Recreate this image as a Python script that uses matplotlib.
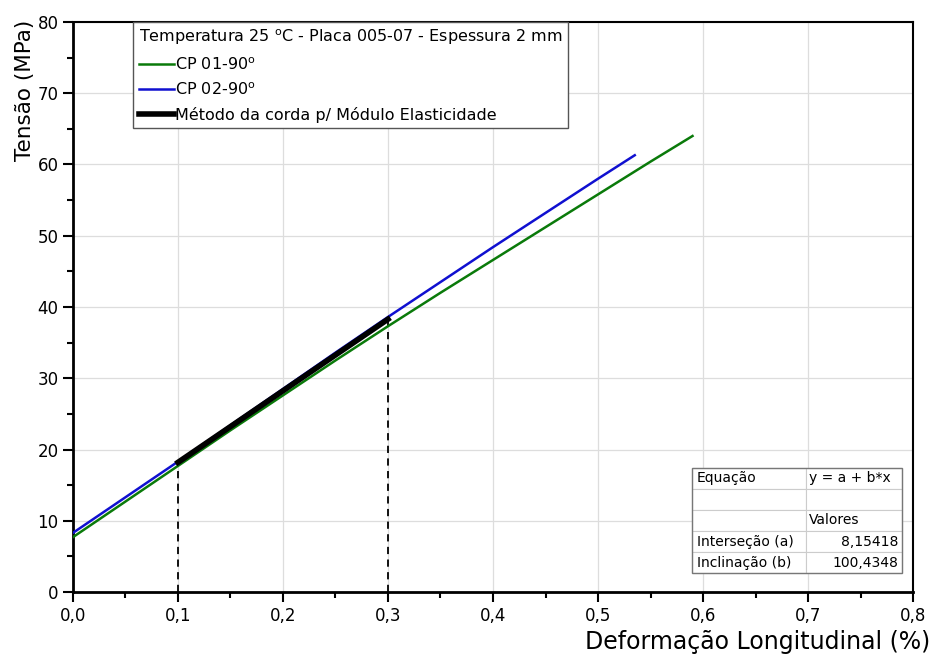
import matplotlib
matplotlib.use("Agg")
import matplotlib.pyplot as plt
from matplotlib.ticker import MultipleLocator, FuncFormatter

# leituras das curvas (deformacao %, tensao MPa)
def_cp01 = [0.0, 0.05, 0.1, 0.15, 0.2, 0.25, 0.3, 0.35, 0.4, 0.45, 0.5, 0.55, 0.59]
ten_cp01 = [7.7, 12.7, 17.7, 22.7, 27.6, 32.5, 37.3, 42.0, 46.6, 51.2, 55.8, 60.4, 64.0]
def_cp02 = [0.0, 0.05, 0.1, 0.15, 0.2, 0.25, 0.3, 0.35, 0.4, 0.45, 0.5, 0.535]
ten_cp02 = [8.3, 13.3, 18.3, 23.4, 28.5, 33.6, 38.6, 43.5, 48.4, 53.2, 58.0, 61.3]

# metodo da corda
a_int = 8.15418
b_incl = 100.4348
def_corda = [0.1, 0.3]
ten_corda = [a_int + b_incl * x for x in def_corda]

tab_linhas = [["Equação", "y = a + b*x"],
              ["", ""],
              ["", "Valores"],
              ["Interseção (a)", "8,15418"],
              ["Inclinação (b)", "100,4348"]]

plt.rcParams['font.family'] = ['DejaVu Sans']

fig = plt.figure(figsize=(9.33, 6.64), dpi=100)
ax = fig.add_axes([0.0782, 0.1084, 0.9004, 0.8585])

ax.plot(def_cp01, ten_cp01, color='#0a7a0a', lw=1.8, label='CP 01-90$^{\\mathrm{o}}$', zorder=3)
ax.plot(def_cp02, ten_cp02, color='#1010d0', lw=1.8, label='CP 02-90$^{\\mathrm{o}}$', zorder=3)
ax.plot(def_corda, ten_corda, color='black', lw=4, label='Método da corda p/ Módulo Elasticidade', zorder=4)

for x, y in zip(def_corda, ten_corda):
    ax.plot([x, x], [0, y], color='black', ls=(0, (4, 3)), lw=1.3, zorder=2)

ax.set_xlim(0, 0.8)
ax.set_ylim(0, 80)
ax.xaxis.set_major_locator(MultipleLocator(0.1))
ax.xaxis.set_minor_locator(MultipleLocator(0.05))
ax.yaxis.set_major_locator(MultipleLocator(10))
ax.yaxis.set_minor_locator(MultipleLocator(5))
ax.xaxis.set_major_formatter(FuncFormatter(lambda v, p: f"{v:.1f}".replace('.', ',')))
ax.grid(True, which='major', color='#dddddd', lw=0.9, zorder=0)
ax.tick_params(which='major', direction='out', length=7, width=1.5, labelsize=12)
ax.tick_params(which='minor', direction='out', length=4, width=1.5)
for s in ax.spines.values():
    s.set_linewidth(1.5)
ax.spines['left'].set_linewidth(2)
ax.spines['bottom'].set_linewidth(2)

ax.set_ylabel('Tensão (MPa)', fontsize=15.5)
ax.yaxis.set_label_coords(-0.045, 0.88)
fig.text(0.997, 0.015, 'Deformação Longitudinal (%)', fontsize=17, ha='right', va='bottom')

leg = ax.legend(loc='upper left', bbox_to_anchor=(0.0714, 1.0), fontsize=11.5,
                title='Temperatura 25 $^{\\mathrm{o}}$C - Placa 005-07 - Espessura 2 mm',
                title_fontsize=11.5, fancybox=False, framealpha=1, edgecolor='#555555',
                handlelength=2.2, handletextpad=0.1, borderaxespad=0, labelspacing=0.55,
                borderpad=0.35)
leg._legend_box.align = 'left'
leg.get_frame().set_linewidth(1.0)

tab = ax.table(cellText=tab_linhas, bbox=[0.737, 0.033, 0.25, 0.185],
               colWidths=[0.54, 0.46], cellLoc='left')
tab.auto_set_font_size(False)
tab.set_fontsize(10)
for (r, c), cell in tab.get_celld().items():
    cell.set_edgecolor('#cccccc')
    cell.set_linewidth(0.8)
    cell.PAD = 0.04
    if c == 1 and r >= 3:
        cell._loc = 'right'
        cell.get_text().set_horizontalalignment('right')
tab.set_zorder(5)
# borda externa da tabela
ax.add_patch(plt.Rectangle((0.737, 0.033), 0.25, 0.185, transform=ax.transAxes,
                           fill=False, edgecolor='#777777', lw=1.0, zorder=6))

fig.savefig('out.png', dpi=100)
